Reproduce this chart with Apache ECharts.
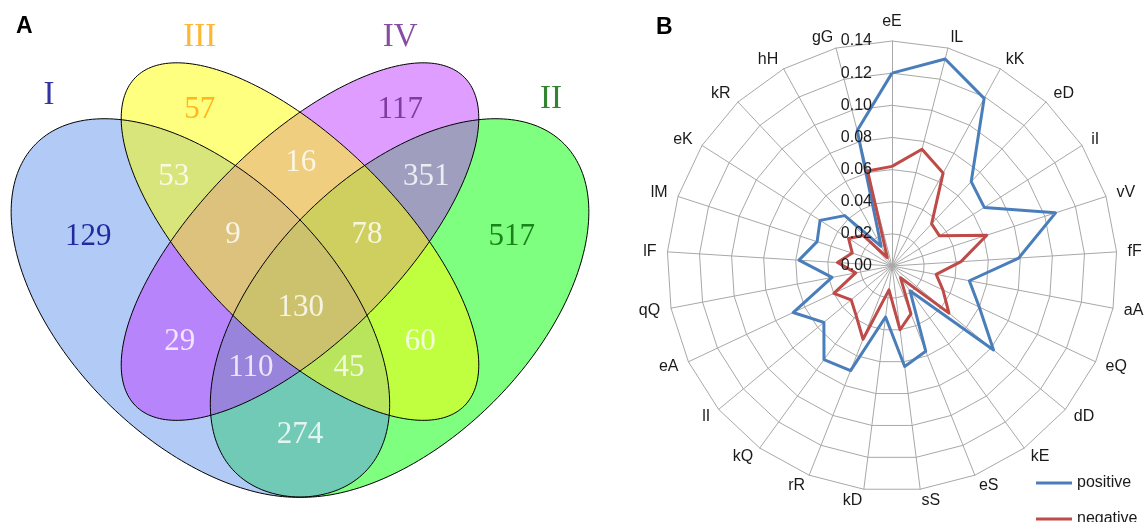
<!DOCTYPE html>
<html>
<head>
<meta charset="utf-8">
<script src="https://cdn.jsdelivr.net/npm/echarts@6/dist/echarts.min.js"></script>
<style>
  html, body { margin: 0; padding: 0; background: #ffffff; }
  #chart { width: 1145px; height: 522px; }
</style>
</head>
<body>
<div id="chart"></div>
<script>
// ---- Panel A: four-set Venn diagram ----
const setNames = ['I', 'II', 'III', 'IV'];
// region keys list the sets a region belongs to
const regionKeys = ['I', 'III', 'IV', 'II', 'I&III', 'III&IV', 'II&IV', 'I&III&IV', 'II&III&IV',
                    'I&II&III&IV', 'I&IV', 'II&III', 'I&II&IV', 'I&II&III', 'I&II'];
const regionCounts = [129, 57, 117, 517, 53, 16, 351, 9, 78, 130, 29, 60, 110, 45, 274];

// ---- Panel B: radar of residue pairs (clockwise from top) ----
const residuePairs = ['eE', 'lL', 'kK', 'eD', 'iI', 'vV', 'fF', 'aA', 'eQ', 'dD', 'kE', 'eS', 'sS',
                      'kD', 'rR', 'kQ', 'lI', 'eA', 'qQ', 'lF', 'lM', 'eK', 'kR', 'hH', 'gG'];
const positiveValues = [0.120, 0.133, 0.119, 0.072, 0.068, 0.107, 0.079, 0.049, 0.060, 0.082, 0.019, 0.057, 0.063,
                        0.032, 0.070, 0.072, 0.055, 0.068, 0.038, 0.058, 0.049, 0.053, 0.043, 0.014, 0.087];
const negativeValues = [0.062, 0.075, 0.066, 0.036, 0.035, 0.062, 0.043, 0.028, 0.035, 0.046, 0.009, 0.032, 0.040,
                        0.015, 0.049, 0.038, 0.033, 0.040, 0.023, 0.034, 0.026, 0.032, 0.026, 0.006, 0.061];
const radialTicks = [0.00, 0.02, 0.04, 0.06, 0.08, 0.10, 0.12, 0.14];
const seriesNames = ['positive', 'negative'];

// ---- Venn layout (unit square, y up) ----
const vennShapes = {
  I:   { cx: 0.35, cy: 0.47, a: 0.35, b: 0.20, tilt: -45, fill: 'rgba(100,149,237,0.5)', text: '#00008B' },
  II:  { cx: 0.65, cy: 0.47, a: 0.35, b: 0.20, tilt: 45,  fill: 'rgba(0,255,0,0.5)',     text: '#006400' },
  III: { cx: 0.50, cy: 0.57, a: 0.35, b: 0.15, tilt: -45, fill: 'rgba(255,255,0,0.5)',   text: '#FFA500' },
  IV:  { cx: 0.50, cy: 0.57, a: 0.35, b: 0.15, tilt: 45,  fill: 'rgba(191,62,255,0.5)',  text: '#68228B' }
};
const drawOrder = ['II', 'I', 'IV', 'III'];
const setLabelAt = { I: [0.122, 0.790], II: [0.878, 0.785], III: [0.349, 0.878], IV: [0.651, 0.878] };
const regionLabelAt = {
  'I': [0.181, 0.577], 'III': [0.349, 0.768], 'IV': [0.651, 0.768], 'II': [0.819, 0.577],
  'I&III': [0.310, 0.667], 'III&IV': [0.501, 0.688], 'II&IV': [0.690, 0.667],
  'I&III&IV': [0.399, 0.580], 'II&III&IV': [0.601, 0.580], 'I&II&III&IV': [0.501, 0.470],
  'I&IV': [0.319, 0.419], 'II&III': [0.681, 0.419], 'I&II&IV': [0.426, 0.380],
  'I&II&III': [0.574, 0.380], 'I&II': [0.500, 0.279]
};

const serif = 'Liberation Serif, Times New Roman, serif';
const sans = 'Liberation Sans, Arial, sans-serif';

function ellipseRenderer(outline) {
  return function (params, api) {
    const cx = api.value(0), cy = api.value(1), a = api.value(2), b = api.value(3);
    const t = api.value(4) * Math.PI / 180;
    const pts = [];
    const n = 240;
    for (let i = 0; i < n; i++) {
      const s = (i / n) * 2 * Math.PI;
      const u = a * Math.cos(s), v = b * Math.sin(s);
      pts.push(api.coord([cx + u * Math.cos(t) - v * Math.sin(t), cy + u * Math.sin(t) + v * Math.cos(t)]));
    }
    const key = drawOrder[params.dataIndex];
    return {
      type: 'polygon',
      shape: { points: pts },
      style: outline ? { fill: 'none', stroke: '#000', lineWidth: 1 } : { fill: vennShapes[key].fill }
    };
  };
}

const ellipseData = drawOrder.map(k => {
  const e = vennShapes[k];
  return [e.cx, e.cy, e.a, e.b, e.tilt];
});

const outerRegion = { 'I': 'I', 'II': 'II', 'III': 'III', 'IV': 'IV' };
const regionLabelData = regionKeys.map((k, i) => ({
  name: String(regionCounts[i]),
  value: regionLabelAt[k],
  label: { color: outerRegion[k] ? vennShapes[k].text : '#ffffff' }
}));
const setLabelData = setNames.map(k => ({
  name: k, value: setLabelAt[k], label: { color: vennShapes[k].text }
}));

// radar indicators run counter-clockwise, so reverse all but the first
const order = [0].concat(residuePairs.map((_, i) => i).slice(1).reverse());
const rMax = radialTicks[radialTicks.length - 1];

const legendText = { fontSize: 16, color: '#1a1a1a', fontFamily: sans };

const chart = echarts.init(document.getElementById('chart'), null, { renderer: 'canvas' });
chart.setOption({
  animation: false,
  backgroundColor: '#ffffff',
  graphic: [
    { type: 'text', left: 16, top: 15, style: { text: 'A', font: 'bold 23px ' + sans, fill: '#000' } },
    { type: 'text', left: 656, top: 16, style: { text: 'B', font: 'bold 23px ' + sans, fill: '#000' } }
  ],
  // unit square mapped at 664 px per unit on both axes
  grid: { left: 7.84, top: 9.2, width: 584.3, height: 504.6, show: false, outerBoundsMode: 'none', containLabel: false },
  xAxis: { type: 'value', min: 0.06, max: 0.94, show: false },
  yAxis: { type: 'value', min: 0.16, max: 0.92, show: false },
  radar: {
    center: [892, 266],
    radius: 225,
    startAngle: 90,
    splitNumber: radialTicks.length - 1,
    shape: 'polygon',
    nameGap: 11,
    axisName: { color: '#1a1a1a', fontSize: 16, fontFamily: sans },
    indicator: order.map(i => ({ name: residuePairs[i], min: 0, max: rMax })),
    axisLine: { lineStyle: { color: '#a8a8a8', width: 1 } },
    splitLine: { lineStyle: { color: '#a8a8a8', width: 1 } },
    splitArea: { show: false },
    axisTick: { show: false },
    axisLabel: { show: false }
  },
  polar: { center: [892, 266], radius: 225 },
  angleAxis: { show: false, startAngle: 90, min: 0, max: 360 },
  radiusAxis: {
    min: 0, max: rMax, interval: radialTicks[1] - radialTicks[0], z: 10,
    axisLine: { show: false }, axisTick: { show: false }, splitLine: { show: false },
    axisLabel: { formatter: v => v.toFixed(2), fontSize: 16, color: '#1a1a1a', fontFamily: sans, margin: 20 }
  },
  legend: [
    { orient: 'vertical', left: 1031, top: 470, itemWidth: 36, itemHeight: 3, icon: 'rect',
      data: [seriesNames[0]], textStyle: legendText },
    { orient: 'vertical', left: 1031, top: 506, itemWidth: 36, itemHeight: 3, icon: 'rect',
      data: [seriesNames[1]], textStyle: legendText }
  ],
  series: [
    { type: 'custom', coordinateSystem: 'cartesian2d', silent: true, z: 1, clip: false,
      renderItem: ellipseRenderer(false), data: ellipseData },
    { type: 'custom', coordinateSystem: 'cartesian2d', silent: true, z: 2, clip: false,
      renderItem: ellipseRenderer(true), data: ellipseData },
    { type: 'scatter', symbolSize: 0, silent: true, z: 3, data: regionLabelData,
      label: { show: true, position: 'inside', formatter: '{b}', fontSize: 31, fontFamily: serif } },
    { type: 'scatter', symbolSize: 0, silent: true, z: 3, data: setLabelData,
      label: { show: true, position: 'inside', formatter: '{b}', fontSize: 33, fontFamily: serif } },
    { type: 'radar', symbol: 'none', z: 5,
      data: [
        { name: seriesNames[0], value: order.map(i => positiveValues[i]),
          lineStyle: { color: '#4A7EBB', width: 3 }, itemStyle: { color: '#4A7EBB' } },
        { name: seriesNames[1], value: order.map(i => negativeValues[i]),
          lineStyle: { color: '#BE4B48', width: 3 }, itemStyle: { color: '#BE4B48' } }
      ] }
  ]
});
</script>
</body>
</html>
